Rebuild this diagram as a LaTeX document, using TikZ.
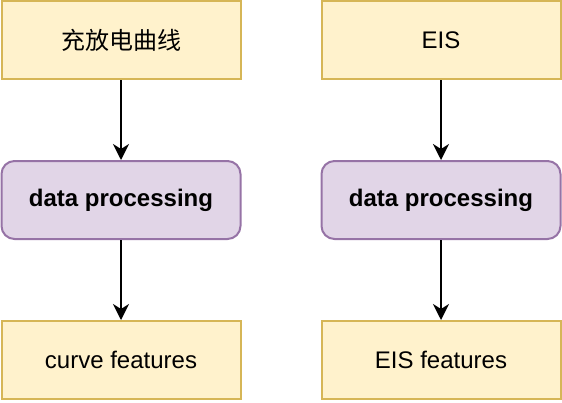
\documentclass[tikz,border=0pt]{standalone}
\usepackage{fontspec}
\setmainfont{Liberation Sans}
\newfontfamily\cjk{Noto Sans CJK SC}
\usetikzlibrary{arrows.meta}
\usetikzlibrary{positioning}
\definecolor{yfill}{HTML}{FFF2CC}
\definecolor{ydraw}{HTML}{D6B656}
\definecolor{pfill}{HTML}{E1D5E7}
\definecolor{pdraw}{HTML}{9673A6}
\tikzset{arrowout/.style={-{Stealth[length=16pt,width=16pt,inset=5pt]},line width=2pt},
databox/.style={rectangle, minimum width=239pt, minimum height=78pt, text centered, fill=yfill, draw=ydraw, line width=2pt, font=\fontsize{24}{28}\selectfont},
procbox/.style={databox, rounded corners=13pt, fill=pfill, draw=pdraw, font=\fontsize{24}{28}\selectfont\bfseries}}

\begin{document}
\begin{tikzpicture} [x=1pt,y=-1pt]
\useasboundingbox (0,0) rectangle (562,402);

\node(charge) at (121, 40) [databox] {{\cjk 充放电曲线}};
\node(proc1) at (121, 200) [procbox] {data processing};
\node(curve) at (121, 360) [databox] {curve features};
\node(eis) at (441, 40) [databox] {EIS};
\node(proc2) at (441, 200) [procbox] {data processing};
\node(eisfeat) at (441, 360) [databox] {EIS features};

\draw (charge) edge[arrowout] (proc1);
\draw (proc1) edge[arrowout] (curve);
\draw (eis) edge[arrowout] (proc2);
\draw (proc2) edge[arrowout] (eisfeat);

\end{tikzpicture}
\end{document}
